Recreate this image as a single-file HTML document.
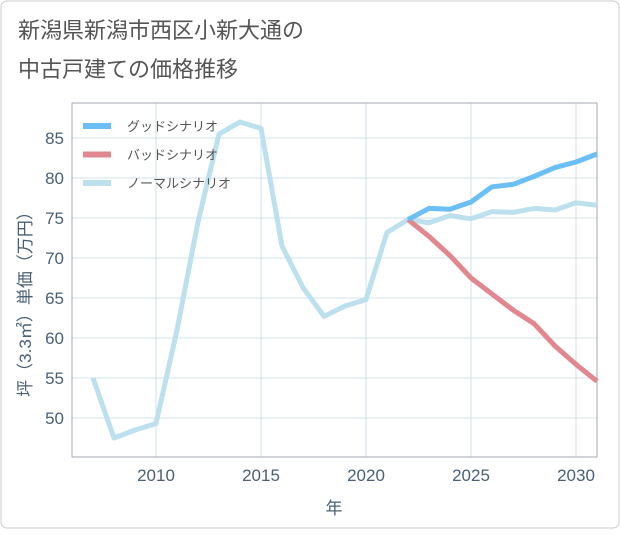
<!DOCTYPE html>
<html><head><meta charset="utf-8"><style>
body{margin:0;background:#fff;font-family:"Liberation Sans","Noto Sans CJK JP",sans-serif;}
#wrap{position:relative;width:621px;height:530px;}
</style></head><body>
<div id="wrap">
<svg id="svg" width="621" height="530" xmlns="http://www.w3.org/2000/svg">
<rect x="1" y="1" width="618" height="527" rx="6" fill="#fff" stroke="#ccc"/>
<text x="18" y="38" font-size="22" fill="#555">新潟県新潟市西区小新大通の</text>
<text x="18" y="77" font-size="22" fill="#555">中古戸建ての価格推移</text>
<g id="plot"></g>
</svg>
</div>
<script>
const years=[2007,2008,2009,2010,2011,2012,2013,2014,2015,2016,2017,2018,2019,2020,2021,2022,2023,2024,2025,2026,2027,2028,2029,2030,2031];
const normalVals=[55,47.5,48.5,49.3,61,74.5,85.5,87,86.2,71.5,66.3,62.7,64,64.8,73.2,74.8,74.4,75.3,74.9,75.8,75.7,76.2,76,76.9,76.6];
const scenYears=[2022,2023,2024,2025,2026,2027,2028,2029,2030,2031];
const goodVals=[74.8,76.2,76.1,77,78.9,79.2,80.2,81.3,82,83];
const badVals=[74.8,72.7,70.3,67.5,65.5,63.5,61.8,59,56.7,54.6];
const xTicks=[2010,2015,2020,2025,2030];
const yTicks=[50,55,60,65,70,75,80,85];
const legendLabels=["グッドシナリオ","バッドシナリオ","ノーマルシナリオ"];
const colors=["#6bbff5","#e0878f","#bde0ee"];

const NS="http://www.w3.org/2000/svg";
const L=72,R=597,T=103,B=457;
const X=v=>156+(v-2010)*21;
const Y=v=>138+(85-v)*8;
const g=document.getElementById('plot');
function mk(tag,attrs){const e=document.createElementNS(NS,tag);for(const k in attrs)e.setAttribute(k,attrs[k]);g.appendChild(e);return e;}
xTicks.forEach(t=>{
 const l=mk('line',{x1:X(t),x2:X(t),y1:T,y2:B,stroke:'#d3e0ea','stroke-width':1});
 
 
 const tx=mk('text',{x:X(t),y:B+24,'font-size':17,fill:'#4a6076','text-anchor':'middle'});
 tx.textContent=t;
 
 
});
yTicks.forEach(t=>{
 const l=mk('line',{x1:L,x2:R,y1:Y(t),y2:Y(t),stroke:'#cfe3ee','stroke-width':1});
 
 
 const tx=mk('text',{x:L-8,y:Y(t)+6,'font-size':17,fill:'#4a6076','text-anchor':'end'});
 tx.textContent=t;
 
 
});
const fr=mk('path',{d:`M${L},${T}H${R}V${B}H${L}Z`,fill:'none',stroke:'#a0a8b0','stroke-width':1});


function line(xs,vs,c,name){
 const p=mk('path',{d:xs.map((x,i)=>(i?'L':'M')+X(x)+','+Y(vs[i])).join(''),fill:'none',stroke:c,'stroke-width':5,'stroke-linejoin':'round'});
 
 
}
line(years,normalVals,colors[2],'normal-series-line');
line(scenYears,badVals,colors[1],'bad-series-line');
line(scenYears,goodVals,colors[0],'good-series-line');
legendLabels.forEach((s,i)=>{
 const y=126+i*28.5;
 const l=mk('line',{x1:83,x2:111,y1:y,y2:y,stroke:colors[i],'stroke-width':6});
 
 
 const t=mk('text',{x:127,y:y+5,'font-size':13,fill:'#555'});
 t.textContent=s;
 
 
});
const xt=mk('text',{x:334,y:514,'font-size':17,fill:'#4a6076','text-anchor':'middle'});
xt.textContent='年';


const yt=mk('text',{x:0,y:0,'font-size':17,fill:'#4a6076','text-anchor':'middle',transform:'translate(31,300) rotate(-90)'});
yt.textContent='坪（3.3㎡）単価（万円）';


</script>
</body></html>
